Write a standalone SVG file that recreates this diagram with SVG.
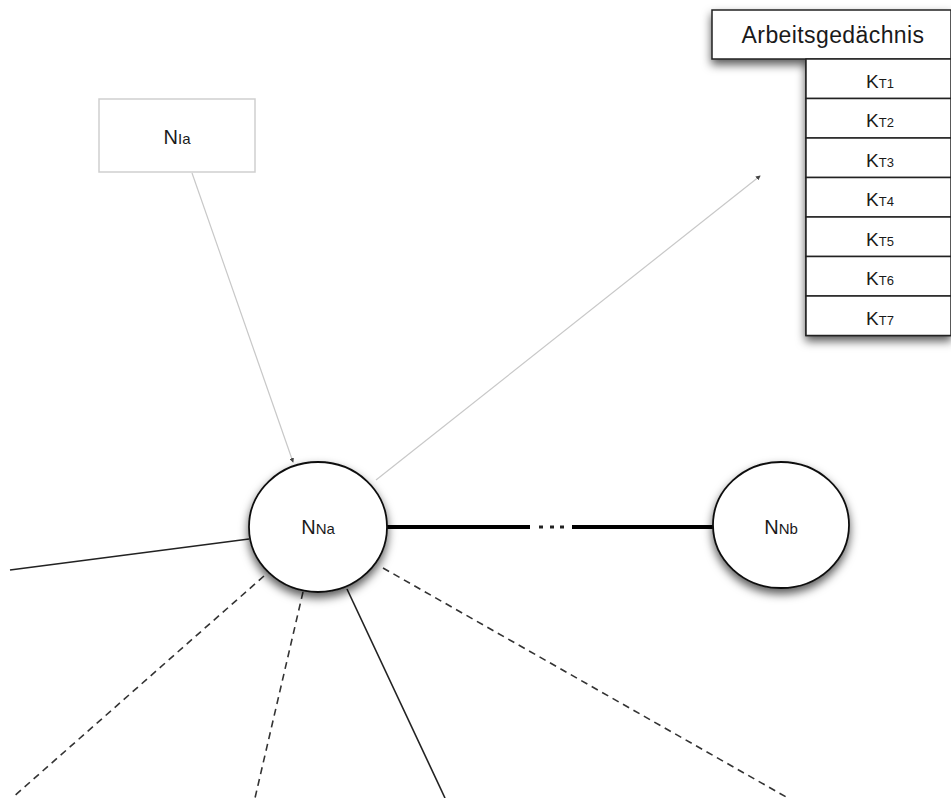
<svg xmlns="http://www.w3.org/2000/svg" width="951" height="798" viewBox="0 0 951 798">
  <defs>
    <filter id="shadow" x="-30%" y="-30%" width="160%" height="170%">
      <feDropShadow dx="0" dy="5" stdDeviation="5" flood-color="#000" flood-opacity="0.65"/>
    </filter>
    <marker id="tip" viewBox="0 0 6 6" refX="5" refY="3" markerWidth="4" markerHeight="4" orient="auto">
      <path d="M0,0 L6,3 L0,6 z" fill="#444"/>
    </marker>
  </defs>
  <style>
    .lbl { font-family: "Liberation Sans", Arial, sans-serif; fill: #1a1a1a; text-anchor: middle; }
    .big { font-size: 20px; }
    .sub { font-size: 15px; }
    .kbig { font-size: 19px; }
    .ksub { font-size: 13px; }
    .solid { stroke: #222; stroke-width: 1.6; fill: none; }
    .dash { stroke: #333; stroke-width: 1.6; fill: none; stroke-dasharray: 7 5; }
    .thin { stroke: #c8c8c8; stroke-width: 1.2; fill: none; }
    .thick { stroke: #000; stroke-width: 4; fill: none; }
    .cell { fill: #fff; stroke: #222; stroke-width: 1.5; }
  </style>

  <!-- connectors -->
  <g id="connectors">
    <line class="thin" x1="192" y1="173" x2="293" y2="462" marker-end="url(#tip)"/>
    <line class="thin" x1="376" y1="480" x2="760" y2="176" marker-end="url(#tip)"/>
    <line class="thick" x1="386" y1="527" x2="530" y2="527"/>
    <line class="thick" x1="572" y1="527" x2="714" y2="527"/>
    <g fill="#222">
      <rect x="539" y="525.5" width="4" height="3"/>
      <rect x="550" y="525.5" width="4" height="3"/>
      <rect x="560" y="525.5" width="4" height="3"/>
    </g>
    <line class="solid" x1="10" y1="570" x2="249" y2="539"/>
    <line class="dash" x1="264" y1="576" x2="12" y2="798"/>
    <line class="dash" x1="303" y1="592" x2="255" y2="798"/>
    <line class="solid" x1="347" y1="589" x2="445" y2="798"/>
    <line class="dash" x1="383" y1="568" x2="788" y2="798"/>
  </g>

  <!-- node N_Ia -->
  <g id="node-nia">
    <rect x="99" y="99" width="156" height="73" fill="#fff" stroke="#cfcfcf" stroke-width="1.5"/>
    <text class="lbl" x="177" y="144"><tspan class="big">N</tspan><tspan class="sub">Ia</tspan></text>
  </g>

  <!-- node N_Na -->
  <g id="node-nna">
    <ellipse cx="318" cy="527" rx="69" ry="65" fill="#fff" stroke="#111" stroke-width="1.8" filter="url(#shadow)"/>
    <text class="lbl" x="318" y="534"><tspan class="big">N</tspan><tspan class="sub">Na</tspan></text>
  </g>

  <!-- node N_Nb -->
  <g id="node-nnb">
    <ellipse cx="781" cy="525" rx="68" ry="63" fill="#fff" stroke="#111" stroke-width="1.8" filter="url(#shadow)"/>
    <text class="lbl" x="781" y="534"><tspan class="big">N</tspan><tspan class="sub">Nb</tspan></text>
  </g>

  <!-- working memory table -->
  <g id="arbeitsgedaechnis">
    <g filter="url(#shadow)">
      <rect class="cell" x="806" y="59" width="145" height="276.5"/>
      <rect class="cell" x="712" y="10" width="239" height="49"/>
    </g>
    <g class="cell">
      <rect x="806" y="59" width="145" height="39.5"/>
      <rect x="806" y="98.5" width="145" height="39.5"/>
      <rect x="806" y="138" width="145" height="39.5"/>
      <rect x="806" y="177.5" width="145" height="39.5"/>
      <rect x="806" y="217" width="145" height="39.5"/>
      <rect x="806" y="256.5" width="145" height="39.5"/>
      <rect x="806" y="296" width="145" height="39.5"/>
    </g>
    <text class="lbl" x="833" y="43" font-size="23" letter-spacing="0.4">Arbeitsgedächnis</text>
    <text class="lbl" x="880" y="88"><tspan class="kbig">K</tspan><tspan class="ksub">T1</tspan></text>
    <text class="lbl" x="880" y="127"><tspan class="kbig">K</tspan><tspan class="ksub">T2</tspan></text>
    <text class="lbl" x="880" y="166.5"><tspan class="kbig">K</tspan><tspan class="ksub">T3</tspan></text>
    <text class="lbl" x="880" y="206"><tspan class="kbig">K</tspan><tspan class="ksub">T4</tspan></text>
    <text class="lbl" x="880" y="245.5"><tspan class="kbig">K</tspan><tspan class="ksub">T5</tspan></text>
    <text class="lbl" x="880" y="285"><tspan class="kbig">K</tspan><tspan class="ksub">T6</tspan></text>
    <text class="lbl" x="880" y="324.5"><tspan class="kbig">K</tspan><tspan class="ksub">T7</tspan></text>
  </g>
</svg>
